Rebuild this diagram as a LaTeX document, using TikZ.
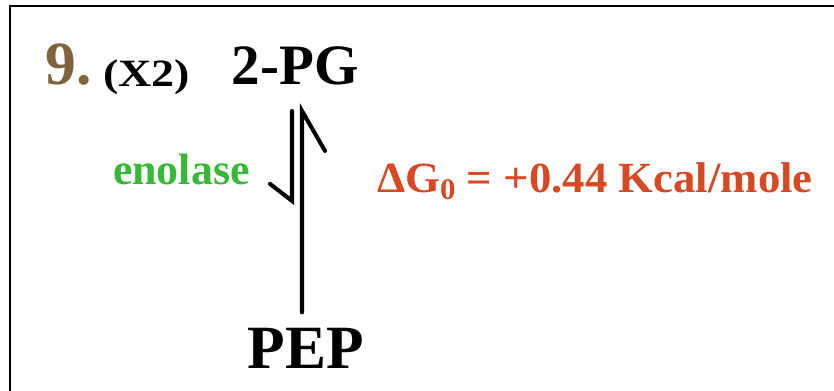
\documentclass[tikz,border=0pt]{standalone}
\usepackage{fontspec}
\setmainfont{Liberation Serif}
\usepackage{tikz}

\definecolor{stepbrown}{RGB}{128,100,62}
\definecolor{enzgreen}{RGB}{55,185,55}
\definecolor{dgred}{RGB}{215,72,35}

\begin{document}
\begin{tikzpicture}[x=0.02cm, y=-0.02cm,
  lbl/.style = {inner sep=0pt, font=\bfseries\fontsize{#1}{#1}\selectfont},
  rxn/.style = {line width=2.3pt, line cap=round, line join=miter},
  frame/.style = {line width=1.4pt}
]
  \useasboundingbox (0,0) rectangle (834,391);

  % frame
  \draw[frame] (10,391) -- (10,6) -- (834,6);

  % step heading
  \node[lbl=35, text=stepbrown, anchor=base west] (num) at (45,85) {9.};
  \node[lbl=22, anchor=base west] (times) at (103,87) {\scalebox{1.19}[1]{(X2)}};

  % metabolites
  \node[lbl=32.5, anchor=base] (pg) at (295,85) {2-PG};
  \node[lbl=35, anchor=base] (pep) at (306,368) {PEP};

  % enzyme and free energy
  \node[lbl=25, text=enzgreen, anchor=base east] (enz) at (250,185) {enolase};
  \node[lbl=24.5, text=dgred, anchor=base west] (dg) at (377,193)
      {\scalebox{1.04}[1]{ΔG\raisebox{-0.35ex}{\fontsize{17}{17}\selectfont 0} = +0.44 Kcal/mole}};

  % equilibrium harpoons
  \coordinate (fwdtop) at ([xshift=0.14cm,yshift=-0.5cm]pg.south);
  \coordinate (fwdbot) at ([xshift=-0.08cm,yshift=0.3cm]pep.north);
  \coordinate (revtop) at ([xshift=-0.06cm,yshift=-0.5cm]pg.south);
  \coordinate (revbot) at ([xshift=-0.06cm,yshift=-2.3cm]pg.south);

  \draw[rxn] (fwdbot) -- (fwdtop) -- ++(23,40);
  \draw[rxn] (revtop) -- (revbot) -- ++(-22,-17);

\end{tikzpicture}
\end{document}
